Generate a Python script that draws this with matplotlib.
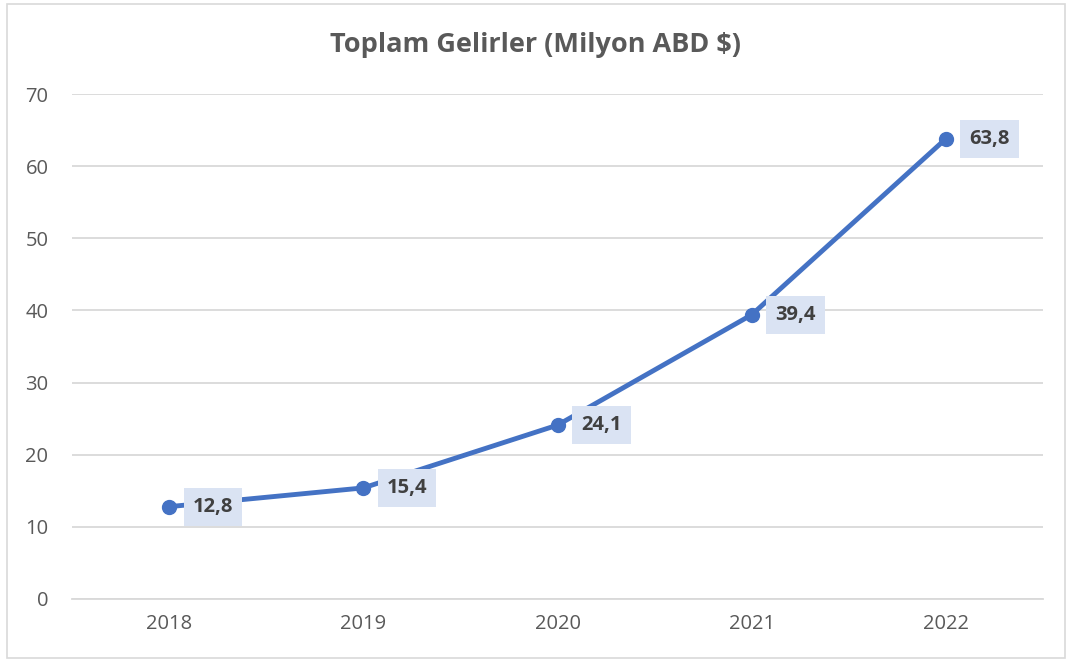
import matplotlib
matplotlib.use("Agg")
import matplotlib.pyplot as plt
from matplotlib.patches import Rectangle

years = ["2018", "2019", "2020", "2021", "2022"]
revenue = [12.8, 15.4, 24.1, 39.4, 63.8]
labels = ["12,8", "15,4", "24,1", "39,4", "63,8"]
yticks = [0, 10, 20, 30, 40, 50, 60, 70]
title = "Toplam Gelirler (Milyon ABD $)"

plt.rcParams['font.family'] = ['Open Sans', 'DejaVu Sans']

fig = plt.figure(figsize=(10.71, 6.64), dpi=100)
ax = fig.add_axes([72/1071, 1-599/664, (1043-72)/1071, (599-94)/664])

x = list(range(len(years)))
ax.plot(x, revenue, color='#4472C4', lw=3.5, marker='o', markersize=10,
        solid_capstyle='round', zorder=3)

for xi, yi, lab in zip(x, revenue, labels):
    ax.annotate(lab, (xi, yi), xytext=(31.5, 0), textcoords='offset points',
                ha='center', va='center', fontsize=14.5, fontweight='bold',
                color='#404040', zorder=5,
                bbox=dict(boxstyle='square,pad=0.45', fc='#DAE3F3', ec='none'))

ax.set_xlim(-0.5, len(years) - 0.5)
ax.set_ylim(0, 70)
ax.set_yticks(yticks)
ax.set_xticks(x)
ax.set_xticklabels(years)
ax.grid(axis='y', color='#D9D9D9', lw=1.3)
ax.set_axisbelow(True)
for s in ['top', 'right', 'left']:
    ax.spines[s].set_visible(False)
ax.spines['bottom'].set_color('#D9D9D9')
ax.spines['bottom'].set_linewidth(1.3)
ax.tick_params(axis='both', length=0, labelsize=14.5, colors='#595959')
ax.tick_params(axis='y', pad=17)
ax.tick_params(axis='x', pad=11)

fig.text(0.5, 1-45/664, title, ha='center', va='center', fontsize=19.5,
         fontweight='bold', color='#595959')

fig.patches.append(Rectangle((7/1071, 1-658/664), (1065-7)/1071, (658-4)/664,
                             transform=fig.transFigure, fill=False,
                             ec='#D9D9D9', lw=1.2))

fig.savefig('out.png', dpi=100)
